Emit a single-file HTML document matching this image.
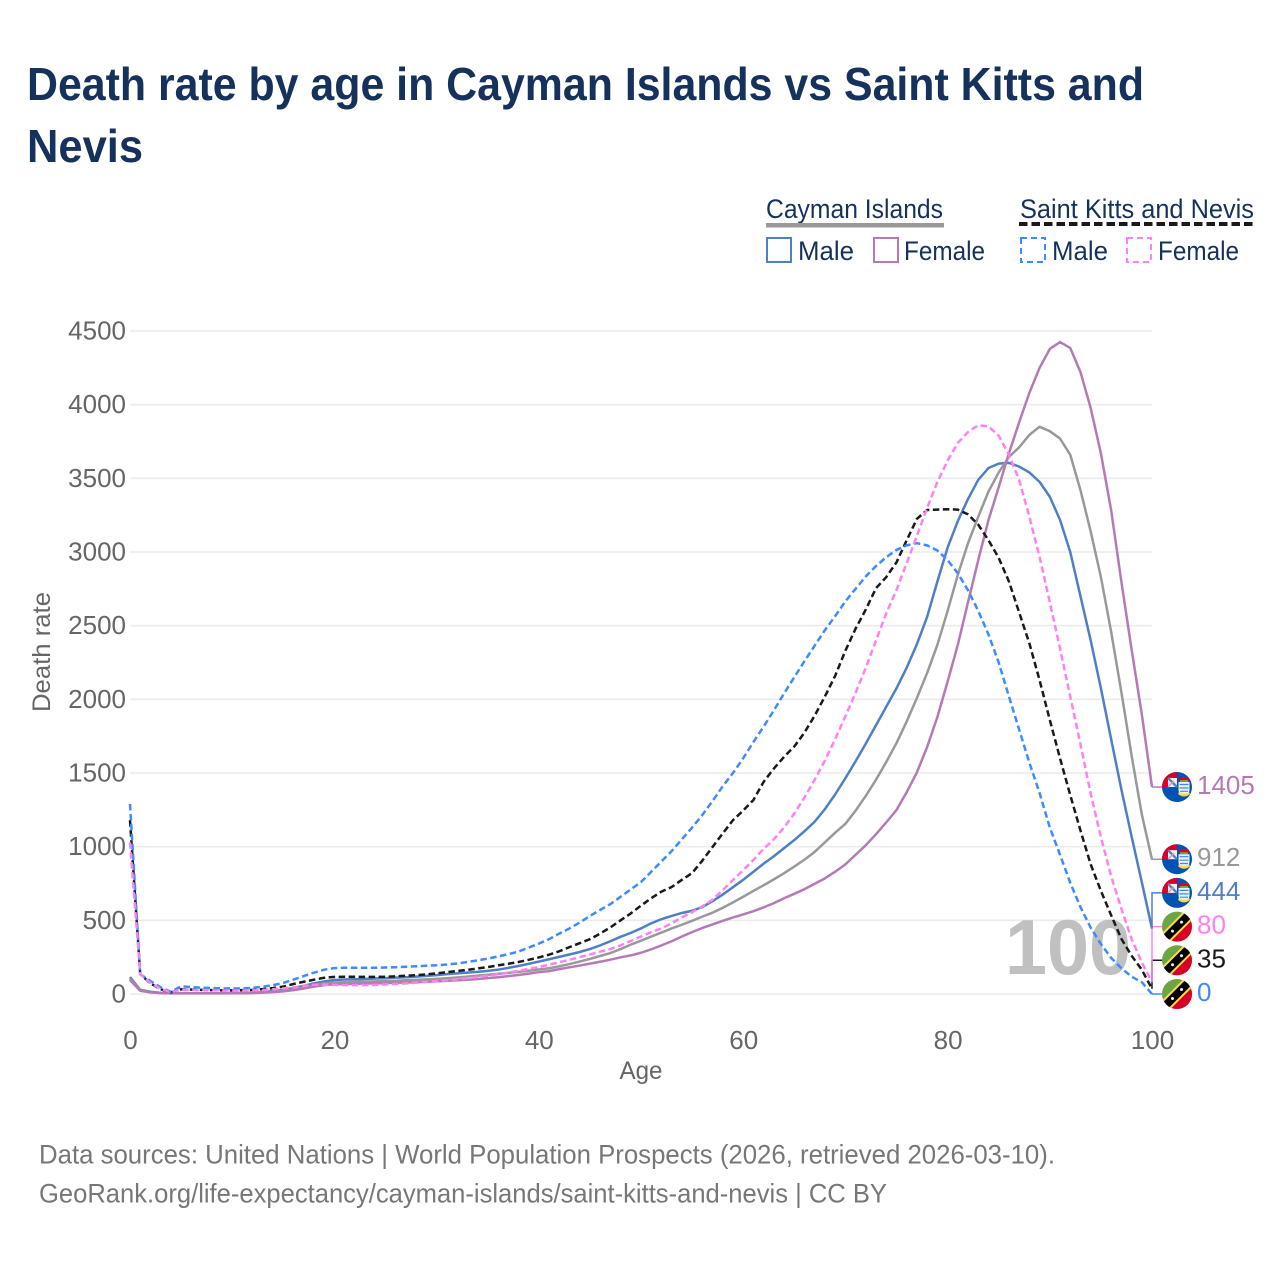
<!DOCTYPE html>
<html lang="en">
<head>
<meta charset="utf-8">
<title>Death rate by age in Cayman Islands vs Saint Kitts and Nevis</title>
<style>
html,body{margin:0;padding:0;background:#fff;}
svg{display:block;font-family:"Liberation Sans",sans-serif;}
</style>
</head>
<body>
<svg id="chart" width="1280" height="1280" viewBox="0 0 1280 1280" xmlns="http://www.w3.org/2000/svg">
  <defs>
    <clipPath id="flag-clip"><circle cx="0" cy="0" r="15"/></clipPath>
    <g id="flag-ky" clip-path="url(#flag-clip)">
      <rect x="-16" y="-16" width="32" height="32" fill="#0052b4"/>
      <rect x="-16" y="-16" width="16" height="16" fill="#d80027"/>
      <rect x="-9" y="-9" width="9" height="9" fill="#f0f0f0"/>
      <path d="M-9 -9L0 0" stroke="#5a7fc0" stroke-width="2.400"/>
      <path d="M-9 0L-3 -6" stroke="#d8a0b0" stroke-width="1.400"/>
      <rect x="2" y="-10" width="10" height="4" fill="#d80027"/>
      <rect x="3" y="-7" width="8" height="2" fill="#6da544"/>
      <path d="M1.500 -5H12.500V3Q12.500 7 7 8Q1.500 7 1.500 3Z" fill="#f0f0f0"/>
      <path d="M2.500 -2.500H11.500M2.500 1H11.500M3 4.300H11" stroke="#338af3" stroke-width="1.200"/>
      <path d="M1 7Q7 12 13 7L12 5Q7 9 2 5Z" fill="#ffda44"/>
    </g>
    <g id="flag-kn" clip-path="url(#flag-clip)">
      <rect x="-16" y="-16" width="32" height="32" fill="#6da544"/>
      <path d="M16 -16V16H-16Z" fill="#d80027"/>
      <path d="M-16 16L16 -16" stroke="#ffda44" stroke-width="12"/>
      <path d="M-16 16L16 -16" stroke="#000" stroke-width="8"/>
      <circle cx="-4.500" cy="4.500" r="1.500" fill="#f0f0f0"/>
      <circle cx="4.500" cy="-4.500" r="1.500" fill="#f0f0f0"/>
    </g>
  </defs>

  <rect x="0" y="0" width="1280" height="1280" fill="#ffffff"/>

  <g fill="#16325c" font-size="46" font-weight="700">
    <text x="27" y="100" textLength="1117" lengthAdjust="spacingAndGlyphs">Death rate by age in Cayman Islands vs Saint Kitts and</text>
    <text x="27" y="162" textLength="116" lengthAdjust="spacingAndGlyphs">Nevis</text>
  </g>

  <g fill="#16325c" font-size="27">
    <text x="766" y="218" textLength="177" lengthAdjust="spacingAndGlyphs">Cayman Islands</text>
    <rect x="766" y="223" width="178" height="4.500" fill="#999999"/>
    <text x="1020" y="218" textLength="234" lengthAdjust="spacingAndGlyphs">Saint Kitts and Nevis</text>
    <line x1="1019" y1="224" x2="1255" y2="224" stroke="#1a1a1a" stroke-width="4" stroke-dasharray="8.500 4"/>

    <rect x="767" y="238" width="24" height="24" fill="none" stroke="#4f7fc4" stroke-width="2"/>
    <text x="798" y="260" textLength="56" lengthAdjust="spacingAndGlyphs">Male</text>
    <rect x="874" y="238" width="24" height="24" fill="none" stroke="#b57ab5" stroke-width="2"/>
    <text x="904" y="260" textLength="81" lengthAdjust="spacingAndGlyphs">Female</text>
    <rect x="1021" y="238" width="24" height="24" fill="none" stroke="#3d8bff" stroke-width="2" stroke-dasharray="6 4"/>
    <text x="1052" y="260" textLength="56" lengthAdjust="spacingAndGlyphs">Male</text>
    <rect x="1127" y="238" width="24" height="24" fill="none" stroke="#ff80f0" stroke-width="2" stroke-dasharray="6 4"/>
    <text x="1158" y="260" textLength="81" lengthAdjust="spacingAndGlyphs">Female</text>
  </g>

  <g id="grid"></g>
  <g id="y-axis"></g>
  <g id="x-axis"></g>

  <text transform="translate(50,652) rotate(-90)" text-anchor="middle" font-size="25" fill="#666666" textLength="120" lengthAdjust="spacingAndGlyphs">Death rate</text>
  <text x="641" y="1079" text-anchor="middle" font-size="25" fill="#666666" textLength="43" lengthAdjust="spacingAndGlyphs">Age</text>

  <text x="1005" y="974" font-size="78" font-weight="700" fill="#c0c0c0" textLength="126" lengthAdjust="spacingAndGlyphs">100</text>

  <g id="series"></g>
  <g id="end-labels"></g>

  <g font-size="27" fill="#777777">
    <text x="39" y="1163.500" textLength="1016" lengthAdjust="spacingAndGlyphs">Data sources: United Nations | World Population Prospects (2026, retrieved 2026-03-10).</text>
    <text x="39" y="1202.500" textLength="848" lengthAdjust="spacingAndGlyphs">GeoRank.org/life-expectancy/cayman-islands/saint-kitts-and-nevis | CC BY</text>
  </g>

<script>
const xTicks = [0, 20, 40, 60, 80, 100];
const yTicks = [0, 500, 1000, 1500, 2000, 2500, 3000, 3500, 4000, 4500];

const caymanMale = [115,28,15,8,6,6,5,5,5,5,6,7,9,13,20,28,40,55,72,85,95,98,100,102,105,108,111,114,118,123,128,135,140,145,150,157,165,177,190,205,220,236,252,268,285,305,330,358,388,415,445,480,508,530,550,565,590,630,675,725,775,830,885,935,990,1045,1105,1170,1255,1355,1465,1580,1700,1825,1950,2075,2215,2375,2560,2800,3030,3210,3360,3490,3570,3600,3605,3580,3540,3476,3375,3218,3000,2700,2400,2075,1730,1390,1070,760,444];
const caymanBoth = [105,25,13,7,5,5,5,5,5,5,6,7,8,11,15,22,32,45,60,72,78,80,82,84,86,88,90,93,96,99,103,107,112,118,124,131,137,143,150,158,166,175,188,203,220,238,258,278,305,335,362,390,417,445,470,497,525,552,585,622,660,700,738,778,820,865,912,965,1030,1095,1155,1245,1345,1455,1575,1703,1850,2010,2179,2370,2600,2845,3060,3240,3410,3540,3645,3710,3795,3850,3820,3770,3660,3420,3140,2830,2460,2050,1620,1220,912];
const caymanFemale = [95,22,11,6,4,4,4,4,4,4,5,5,6,9,13,18,26,37,50,60,66,68,70,71,72,74,76,78,80,83,86,89,93,97,102,108,114,121,129,138,148,155,169,181,193,206,219,233,249,262,280,303,330,358,390,420,448,472,497,520,540,562,588,617,650,680,712,748,785,830,880,945,1010,1085,1165,1249,1370,1505,1677,1880,2120,2370,2660,2945,3217,3440,3670,3880,4080,4250,4378,4425,4385,4222,3977,3670,3285,2800,2340,1900,1405];
const kittsMale = [1290,135,88,45,15,52,47,43,40,38,37,38,42,50,60,75,98,122,145,165,176,178,178,178,178,180,182,185,188,192,195,200,207,217,228,240,255,270,288,315,342,372,410,445,485,530,570,610,660,710,760,830,900,970,1050,1130,1215,1310,1410,1500,1600,1710,1815,1925,2040,2150,2260,2365,2470,2565,2665,2750,2835,2905,2965,3014,3045,3060,3045,3010,2945,2855,2740,2600,2440,2250,2020,1795,1570,1364,1130,945,755,590,450,340,245,175,118,80,0];
const kittsBoth = [1180,135,72,32,11,32,30,28,26,25,25,26,28,33,40,50,68,83,97,110,116,117,117,116,116,117,120,124,128,133,140,148,156,164,173,183,194,205,217,232,248,267,290,318,345,372,410,452,500,547,600,650,695,726,775,821,905,998,1090,1180,1245,1317,1440,1530,1610,1680,1775,1890,2020,2160,2330,2480,2610,2755,2830,2930,3080,3225,3285,3288,3290,3288,3255,3185,3080,2960,2800,2590,2380,2130,1860,1600,1350,1110,880,700,535,375,260,165,35];
const kittsFemale = [1030,135,75,35,12,30,28,26,25,24,24,24,25,27,32,38,45,55,63,63,62,60,60,60,62,65,68,72,77,82,87,93,100,107,115,124,134,145,157,170,184,199,215,232,250,268,287,305,330,360,390,420,445,480,520,555,595,640,705,774,840,910,985,1050,1130,1225,1335,1455,1585,1730,1885,2045,2215,2400,2585,2742,2925,3110,3300,3475,3620,3740,3815,3860,3852,3790,3660,3490,3240,2966,2660,2345,2020,1695,1360,1066,800,580,375,215,80];

const seriesNames = ['cayman-male','cayman-both','cayman-female','saint-kitts-both','saint-kitts-male','saint-kitts-female'];
const seriesValues = [caymanMale,caymanBoth,caymanFemale,kittsBoth,kittsMale,kittsFemale];
const seriesColors = ['#4f7fc4','#999999','#b57ab5','#1a1a1a','#3d8bff','#ff80f0'];
const seriesDashed = [false,false,false,true,true,true];
const seriesFlags = ['flag-ky','flag-ky','flag-ky','flag-kn','flag-kn','flag-kn'];
const labelColors = ['#4f7fc4','#999999','#b57ab5','#1a1a1a','#3d8bff','#ff80f0'];

const NS = 'http://www.w3.org/2000/svg';
const xScale = function (age) { return 130 + age * 10.22; };
const yScale = function (v) { return 994 - v * (663 / 4500); };

function make(tag, attrs, parent, text) {
  const el = document.createElementNS(NS, tag);
  Object.keys(attrs).forEach(function (k) { el.setAttribute(k, attrs[k]); });
  if (text !== undefined) { el.textContent = text; }
  parent.appendChild(el);
  return el;
}

const gridG = document.getElementById('grid');
const yG = document.getElementById('y-axis');
const xG = document.getElementById('x-axis');
const seriesG = document.getElementById('series');
const labelsG = document.getElementById('end-labels');

yTicks.forEach(function (t) {
  const line = make('line', {x1: xScale(0), x2: xScale(100), y1: yScale(t), y2: yScale(t), stroke: '#ececec', 'stroke-width': 1.6}, gridG);
  
  
  const label = make('text', {x: 126, y: yScale(t) + 8.5, 'text-anchor': 'end', 'font-size': 26, fill: '#666666'}, yG, String(t));
  
  
});

xTicks.forEach(function (t) {
  const label = make('text', {x: xScale(t) + 0.5, y: 1049, 'text-anchor': 'middle', 'font-size': 26, fill: '#666666'}, xG, String(t));
  
  
});

seriesValues.forEach(function (values, i) {
  let d = '';
  values.forEach(function (v, age) {
    d += (age === 0 ? 'M' : 'L') + xScale(age).toFixed(2) + ' ' + yScale(v).toFixed(2);
  });
  const path = make('path', {d: d, fill: 'none', stroke: seriesColors[i], 'stroke-width': 2.5, 'stroke-linejoin': 'round'}, seriesG);
  if (seriesDashed[i]) { path.setAttribute('stroke-dasharray', '6.5 3.5'); }
  
  
});

const order = seriesValues.map(function (v, i) { return i; }).sort(function (a, b) {
  return seriesValues[a][100] - seriesValues[b][100];
});
let prevY = Infinity;
order.forEach(function (i) {
  const value = seriesValues[i][100];
  const labelY = Math.min(yScale(value), prevY - 33.7);
  prevY = labelY;
  const connector = make('path', {d: 'M' + xScale(100) + ' ' + yScale(value) + 'V' + labelY + 'H1162', fill: 'none', stroke: seriesColors[i], 'stroke-width': 1.5}, labelsG);
  
  
});
prevY = Infinity;
order.forEach(function (i) {
  const value = seriesValues[i][100];
  const labelY = Math.min(yScale(value), prevY - 33.7);
  prevY = labelY;
  const flag = make('use', {href: '#' + seriesFlags[i], x: 1177, y: labelY}, labelsG);
  
  
  const label = make('text', {x: 1197, y: labelY + 7, 'font-size': 26, fill: labelColors[i]}, labelsG, String(value));
  
  
});
</script>
</svg>
</body>
</html>
